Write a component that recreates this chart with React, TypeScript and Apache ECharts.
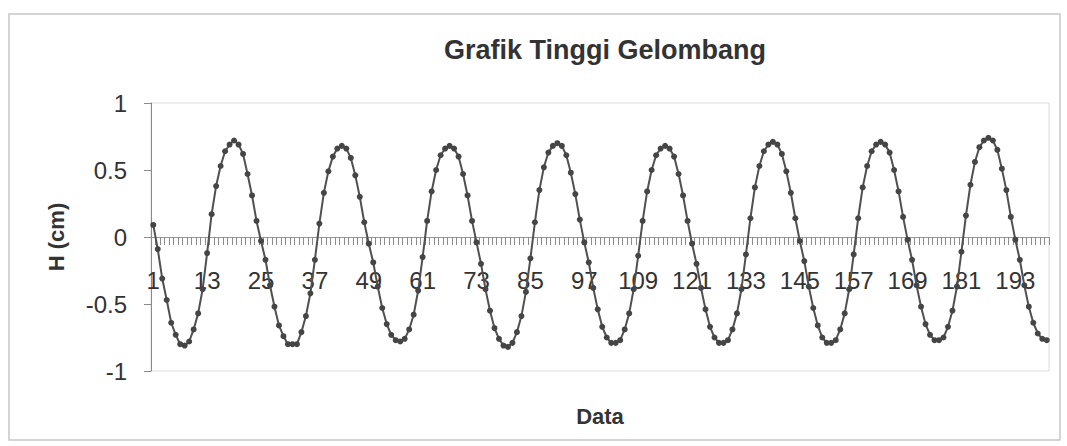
import React, { useEffect, useRef } from "react";
import * as echarts from "echarts";

const titleText = "Grafik Tinggi Gelombang";
const xName = "Data";
const yName = "H (cm)";

// H (cm) values, one per data point (200 points)
const firstValue = [0.09];
const wave1 = [-0.09, -0.31, -0.47, -0.64, -0.73, -0.80, -0.81, -0.78, -0.69, -0.57, -0.39, -0.12, 0.17, 0.38, 0.53, 0.64, 0.69, 0.72, 0.69, 0.62, 0.47, 0.31, 0.12, -0.03];
const wave2 = [-0.17, -0.36, -0.52, -0.66, -0.74, -0.80, -0.80, -0.80, -0.71, -0.59, -0.42, -0.17, 0.10, 0.33, 0.49, 0.60, 0.66, 0.68, 0.66, 0.59, 0.46, 0.30, 0.11, -0.05];
const wave3 = [-0.19, -0.37, -0.53, -0.65, -0.73, -0.77, -0.78, -0.76, -0.69, -0.58, -0.40, -0.15, 0.12, 0.34, 0.50, 0.61, 0.66, 0.68, 0.66, 0.60, 0.47, 0.31, 0.12, -0.04];
const wave4 = [-0.20, -0.39, -0.55, -0.68, -0.76, -0.81, -0.82, -0.79, -0.71, -0.59, -0.41, -0.16, 0.11, 0.35, 0.52, 0.63, 0.68, 0.70, 0.68, 0.61, 0.48, 0.32, 0.13, -0.04];
const wave5 = [-0.19, -0.38, -0.54, -0.67, -0.75, -0.79, -0.79, -0.77, -0.69, -0.57, -0.39, -0.14, 0.12, 0.34, 0.50, 0.61, 0.66, 0.68, 0.66, 0.60, 0.47, 0.31, 0.12, -0.05];
const wave6 = [-0.20, -0.38, -0.54, -0.67, -0.75, -0.79, -0.79, -0.77, -0.69, -0.57, -0.39, -0.13, 0.14, 0.37, 0.53, 0.64, 0.69, 0.71, 0.69, 0.62, 0.49, 0.33, 0.14, -0.03];
const wave7 = [-0.18, -0.37, -0.53, -0.66, -0.75, -0.79, -0.79, -0.77, -0.69, -0.57, -0.39, -0.13, 0.14, 0.37, 0.53, 0.64, 0.69, 0.71, 0.69, 0.63, 0.50, 0.34, 0.15, -0.02];
const wave8 = [-0.17, -0.36, -0.52, -0.65, -0.73, -0.77, -0.77, -0.75, -0.67, -0.55, -0.37, -0.11, 0.16, 0.39, 0.56, 0.67, 0.72, 0.74, 0.72, 0.65, 0.51, 0.35, 0.15, -0.02];
const tail = [-0.17, -0.36, -0.52, -0.64, -0.72, -0.76, -0.77];

const values = [
  ...firstValue, ...wave1, ...wave2, ...wave3, ...wave4,
  ...wave5, ...wave6, ...wave7, ...wave8, ...tail,
];
const categories = values.map((_, i) => String(i + 1));

const yMin = -1;
const yMax = 1;
const yStep = 0.5;
const labelEvery = 12;

const FONT = "'Liberation Sans', Arial, sans-serif";

const GRID_TOP = 103;
const GRID_H = 268;

export default function App() {
  const ref = useRef<HTMLDivElement>(null);

  useEffect(() => {
    if (!ref.current) return;
    const chart = echarts.init(ref.current, undefined, { renderer: "svg" });
    chart.setOption({
      animation: false,
      backgroundColor: "#ffffff",
      title: {
        text: titleText,
        left: 600,
        top: 31,
        textAlign: "center",
        textStyle: { fontSize: 27, fontWeight: "bold", color: "#333", fontFamily: FONT },
      },
      graphic: [
        {
          type: "rect",
          shape: { x: 9, y: 14, width: 1051, height: 426 },
          style: { fill: "none", stroke: "#c8c8c8", lineWidth: 1.5 },
          silent: true,
        },
      ],
      grid: {
        left: 151,
        top: GRID_TOP,
        width: 898,
        height: GRID_H,
        outerBoundsMode: "none",
        containLabel: false,
        show: true,
        borderColor: "#dcdcdc",
        borderWidth: 1,
        backgroundColor: "transparent",
      },
      xAxis: {
        type: "category",
        data: categories,
        boundaryGap: true,
        position: "bottom",
        offset: -GRID_H / 2,
        name: xName,
        nameLocation: "middle",
        nameGap: 168,
        nameTextStyle: { fontSize: 22, fontWeight: "bold", color: "#333", fontFamily: FONT },
        axisLine: { onZero: false, lineStyle: { color: "#8f9c9c", width: 1 } },
        axisTick: { show: true, interval: 0, length: 8, lineStyle: { color: "#8c8c8c", width: 1 } },
        axisLabel: {
          interval: labelEvery - 1,
          margin: 31,
          fontSize: 24,
          color: "#333",
          fontFamily: FONT,
        },
        splitLine: { show: false },
      },
      yAxis: {
        type: "value",
        min: yMin,
        max: yMax,
        interval: yStep,
        name: yName,
        nameLocation: "middle",
        nameGap: 84,
        nameRotate: 90,
        nameTextStyle: { fontSize: 22, fontWeight: "bold", color: "#333", fontFamily: FONT },
        axisLine: { show: true, lineStyle: { color: "#8a8a8a", width: 1 } },
        axisTick: { show: true, length: 7, lineStyle: { color: "#8a8a8a" } },
        axisLabel: { fontSize: 24, margin: 24, color: "#333", fontFamily: FONT },
        splitLine: { show: false },
      },
      series: [
        {
          type: "line",
          data: values,
          symbol: "circle",
          symbolSize: 6,
          showAllSymbol: true,
          lineStyle: { color: "#505050", width: 2 },
          itemStyle: { color: "#454545" },
        },
      ],
    });
    return () => chart.dispose();
  }, []);

  return (
    <div
      ref={ref}
      style={{ position: "fixed", left: 0, top: 0, width: 1067, height: 446, background: "#fff" }}
    />
  );
}
